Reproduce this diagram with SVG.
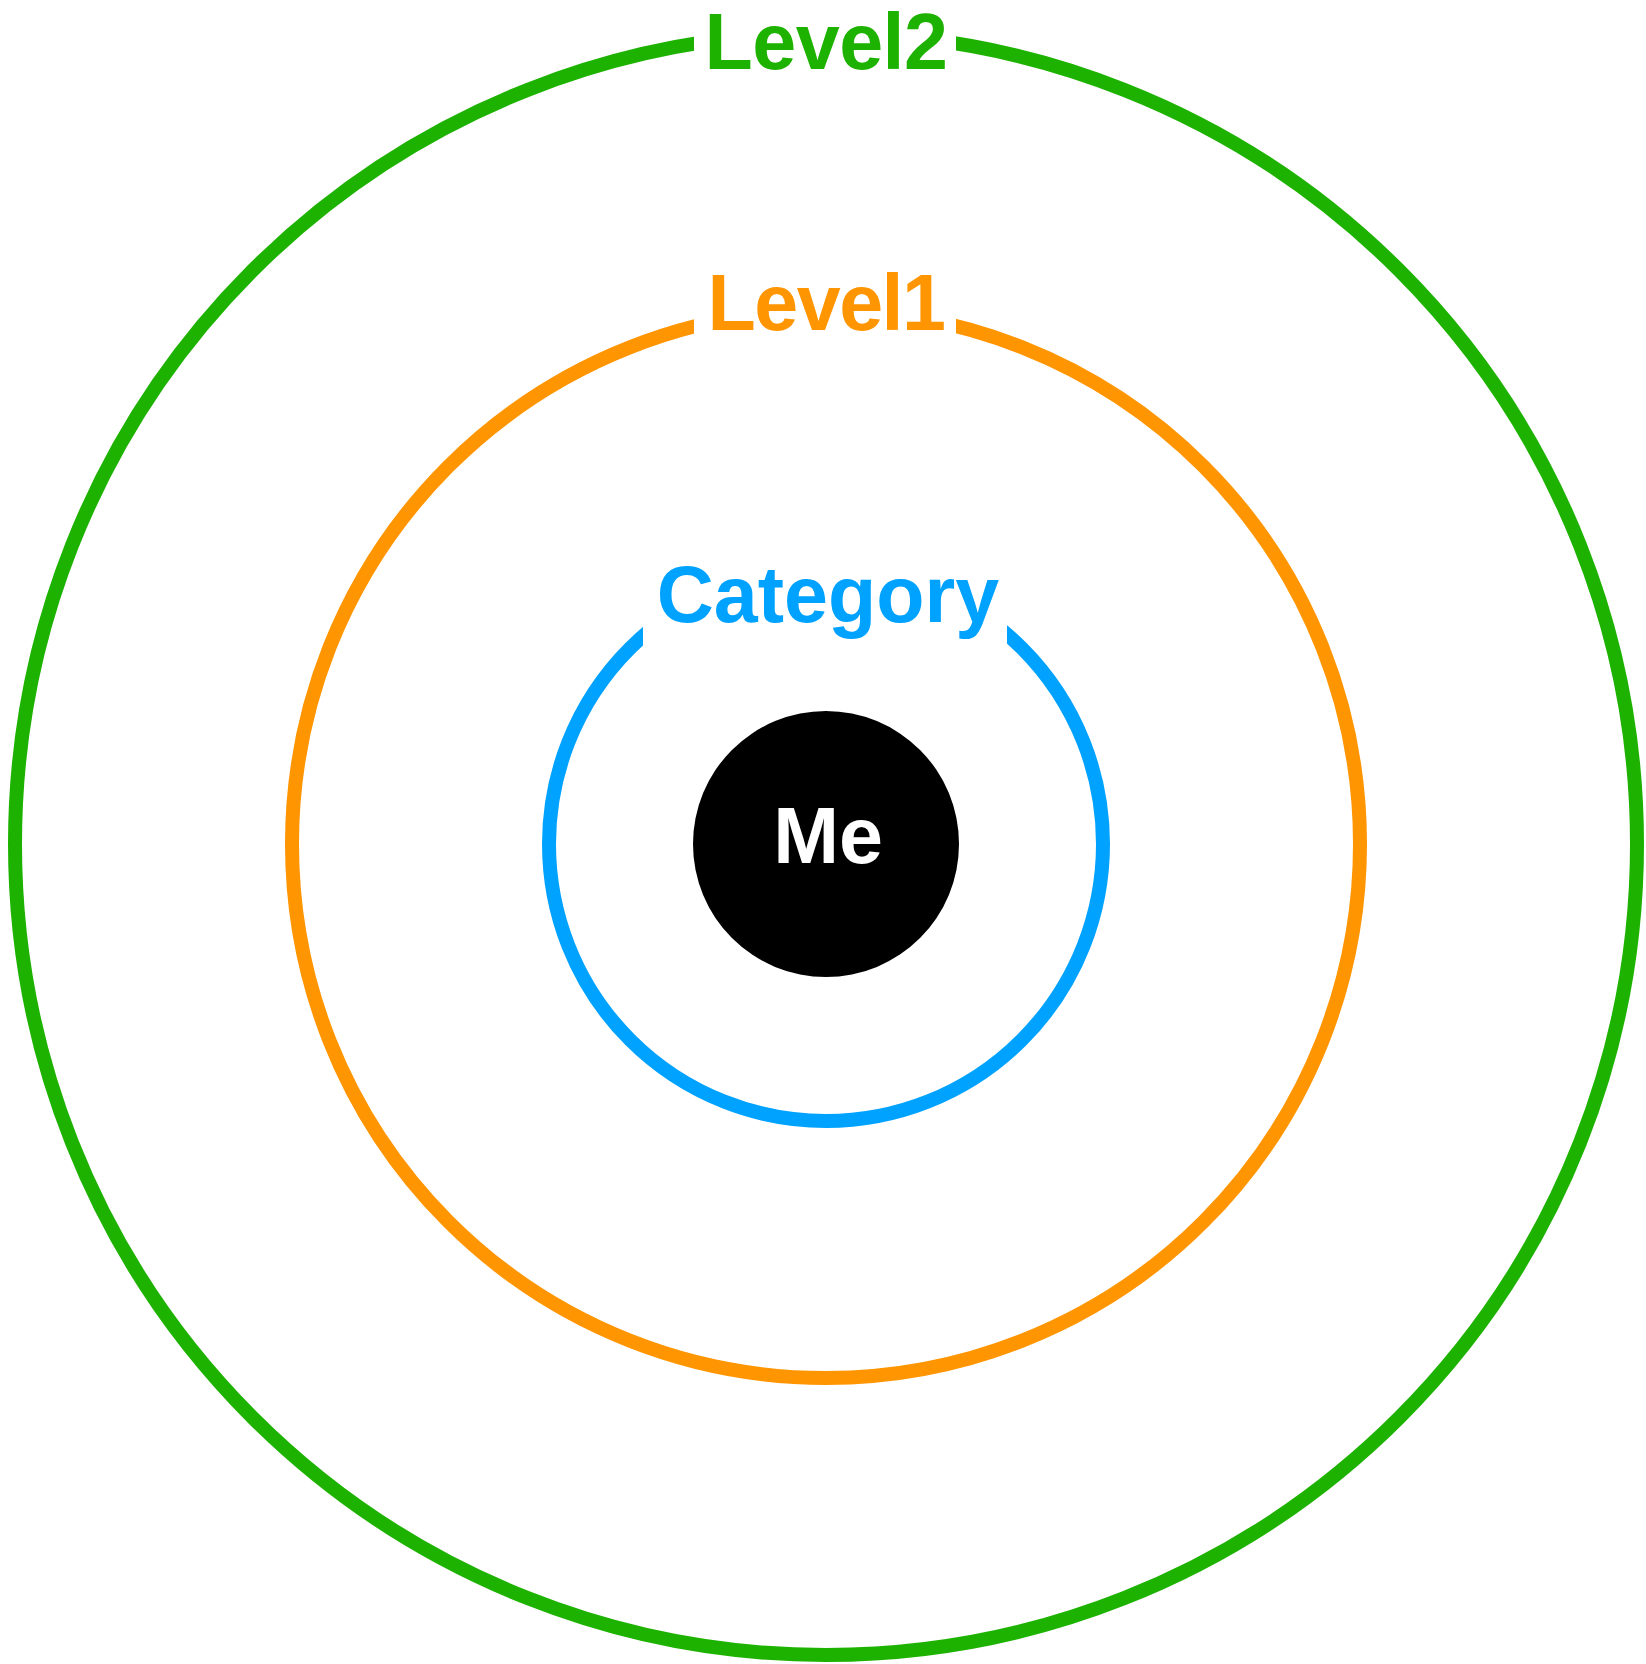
<svg xmlns="http://www.w3.org/2000/svg" width="1646" height="1664" viewBox="0 0 1646 1664">
<style>
.ring{fill:none;stroke-width:14}
.mask{fill:#ffffff}
.lbl{font-family:"Liberation Sans",Arial,Helvetica,sans-serif;font-weight:bold;font-size:79px;text-anchor:middle}
</style>
<rect width="1646" height="1664" fill="#ffffff"/>
<g id="level2">
<circle class="ring" cx="826" cy="844" r="811" stroke="#1EB200"/>
<rect class="mask" x="694" y="0" width="262" height="84"/>
<text class="lbl" x="826" y="69" fill="#1EB200" font-size="76" letter-spacing="-0.5">Level2</text>
</g>
<g id="level1">
<circle class="ring" cx="826" cy="844" r="534" stroke="#FF9500"/>
<rect class="mask" x="694" y="260" width="262" height="80"/>
<text class="lbl" x="826" y="330" fill="#FF9500" letter-spacing="-1.5">Level1</text>
</g>
<g id="category">
<circle class="ring" cx="826" cy="844" r="277" stroke="#00A2FF"/>
<rect class="mask" x="643" y="540" width="364" height="110"/>
<text class="lbl" x="828" y="622" fill="#00A2FF">Category</text>
</g>
<g id="me">
<circle cx="826" cy="844" r="133" fill="#000000"/>
<text class="lbl" x="828" y="863" fill="#ffffff" font-size="78">Me</text>
</g>
<g id="connectors"/>
</svg>
